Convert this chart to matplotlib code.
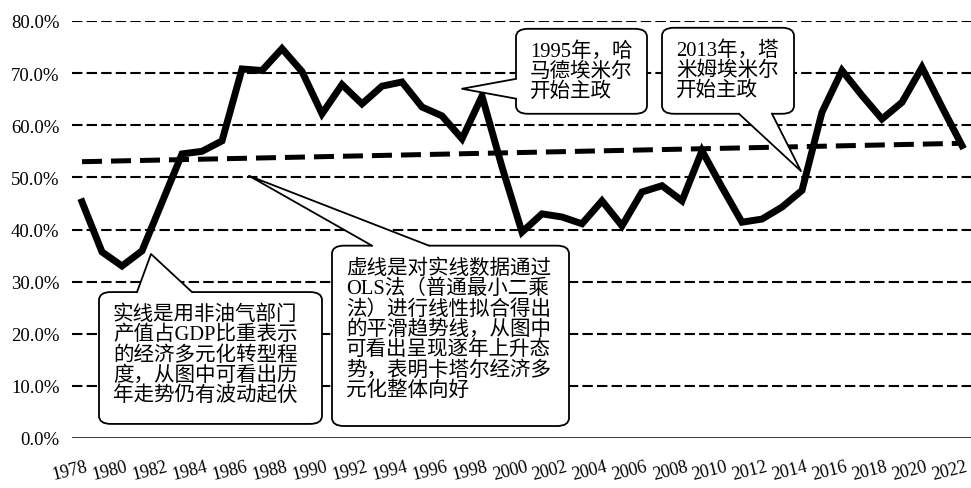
import matplotlib
matplotlib.use("Agg")
import matplotlib.pyplot as plt
import matplotlib.transforms as mtransforms
from matplotlib.patches import FancyBboxPatch, Polygon
import numpy as np

years = list(range(1978, 2023))
share = [45.3, 35.7, 33.0, 35.9, 45.2, 54.5, 55.0, 57.0, 70.8, 70.5,
         74.7, 70.3, 62.2, 67.8, 64.1, 67.5, 68.3, 63.5, 61.8, 57.4,
         65.6, 52.0, 39.5, 43.0, 42.4, 41.1, 45.5, 40.7, 47.2, 48.4,
         45.5, 55.1, 48.1, 41.4, 42.0, 44.3, 47.5, 62.5, 70.5, 65.7,
         61.2, 64.4, 71.1, 63.5, 56.1]
yticks = [0, 10, 20, 30, 40, 50, 60, 70, 80]
xtick_years = list(range(1978, 2023, 2))

# callouts: (text, box x0, x1, y0, y1, wedge base 1, wedge base 2, tip)
notes = [
    ("1995年，哈\n马德埃米尔\n开始主政",
     (1999.7, 2006.25, 62.2, 78.5), (1999.7, 68.9), (1999.7, 65.1), (1997.0, 67.0)),
    ("2013年，塔\n米姆埃米尔\n开始主政",
     (2007.0, 2013.6, 62.2, 78.7), (2010.85, 62.2), (2012.5, 62.2), (2013.95, 51.2)),
    ("实线是用非油气部门\n产值占GDP比重表示\n的经济多元化转型程\n度，从图中可看出历\n年走势仍有波动起伏",
     (1978.85, 1990.0, 2.7, 28.0), (1980.75, 28.0), (1983.5, 28.0), (1981.45, 35.3)),
    ("虚线是对实线数据通过\nOLS法（普通最小二乘\n法）进行线性拟合得出\n的平滑趋势线，从图中\n可看出呈现逐年上升态\n势，表明卡塔尔经济多\n元化整体向好",
     (1990.5, 2002.35, 2.3, 36.9), (1992.5, 36.9), (1995.35, 36.9), (1986.35, 50.3)),
]

FONT = ["Liberation Serif", "Noto Sans CJK SC", "DejaVu Sans"]
plt.rcParams["font.family"] = FONT

fig = plt.figure(figsize=(9.71, 4.89), dpi=100)
ax = fig.add_axes([72 / 971, 1 - 439 / 489, 900 / 971, 417 / 489])

ax.set_xlim(1977.5, 2022.5)
ax.set_ylim(0, 80)

for v in yticks[1:]:
    ax.axhline(v, color="black", lw=1.5, ls=(0, (5, 2)), zorder=1)
ax.axhline(0, color="black", lw=1.8, zorder=1)

# OLS trend line of the solid series
coef = np.polyfit(years, share, 1)
trend = np.polyval(coef, years)
ax.plot(years, trend, color="black", lw=3.6, ls=(0, (4, 1.8)), zorder=2)
ax.plot(years, share, color="black", lw=5, solid_joinstyle="miter", zorder=3)

for s in ax.spines.values():
    s.set_visible(False)
ax.set_yticks(yticks)
ax.set_yticklabels([f"{v:.1f}%" for v in yticks], fontsize=13.5)
ax.set_xticks(xtick_years)
ax.set_xticklabels([str(y) for y in xtick_years], fontsize=13, rotation=14)
ax.tick_params(length=0, pad=9)
ax.tick_params(axis="x", pad=14)
offset = mtransforms.ScaledTranslation(-0.12, 0, fig.dpi_scale_trans)
for lbl in ax.get_xticklabels():
    lbl.set_transform(lbl.get_transform() + offset)

for text, (x0, x1, y0, y1), b1, b2, tip in notes:
    box = FancyBboxPatch((x0, y0), x1 - x0, y1 - y0,
                         boxstyle="round,pad=0,rounding_size=0.6",
                         mutation_aspect=2.6,
                         fc="white", ec="black", lw=1.3, zorder=5)
    ax.add_patch(box)
    # white wedge covering the box edge, then its two outline sides
    cx, cy = (x0 + x1) / 2, (y0 + y1) / 2
    inner1 = (b1[0] + (cx - b1[0]) * 0.03, b1[1] + (cy - b1[1]) * 0.06)
    inner2 = (b2[0] + (cx - b2[0]) * 0.03, b2[1] + (cy - b2[1]) * 0.06)
    ax.add_patch(Polygon([tip, b1, inner1, inner2, b2], closed=True,
                         fc="white", ec="none", zorder=6))
    ax.plot([b1[0], tip[0], b2[0]], [b1[1], tip[1], b2[1]],
            color="black", lw=1.3, zorder=7)
    ax.annotate(text, xy=(x0, y1), xytext=(10, -9), textcoords="offset points",
                ha="left", va="top", fontsize=14.8, linespacing=1.05,
                family=FONT, zorder=8)

fig.savefig("out.png", dpi=100)
